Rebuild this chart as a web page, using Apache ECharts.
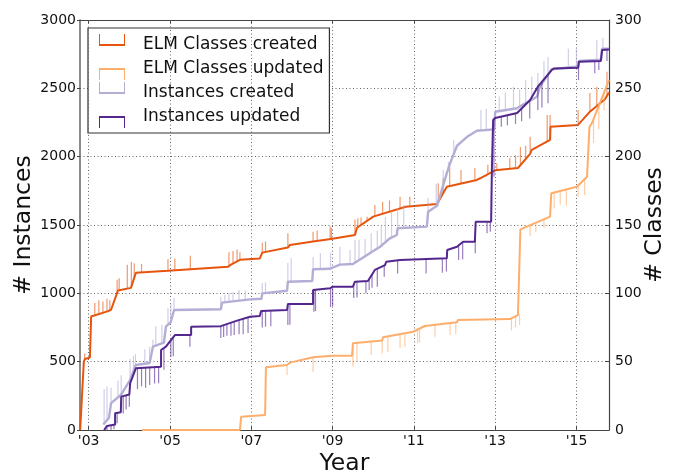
<!DOCTYPE html>
<html><head><meta charset="utf-8">
<script src="https://cdn.jsdelivr.net/npm/echarts@6/dist/echarts.min.js"></script>
<style>html,body{margin:0;padding:0;background:#fff}#c{width:675px;height:475px}</style>
</head><body><div id="c"></div>
<script>
// ---- data ----
const xTicks = [2003, 2005, 2007, 2009, 2011, 2013, 2015];

// ELM classes created (right axis, # classes)
const classesCreated = [[2002.79,0],[2002.88,50],[2002.91,52],[2003.03,53],[2003.06,83],[2003.48,87],[2003.55,88],[2003.72,102],[2004.04,104],[2004.16,115],[2004.95,116.5],[2006.43,119.5],[2006.5,121],[2006.72,124.5],[2007.21,125.5],[2007.27,129.8],[2007.9,133.5],[2007.95,135.4],[2008.52,138],[2009.0,140],[2009.55,142.7],[2009.6,148],[2010.0,156.1],[2010.8,163.4],[2011.57,165.4],[2011.81,178],[2012.55,183],[2012.63,184.2],[2013.0,190],[2013.56,191.7],[2013.86,202],[2013.9,204.9],[2014.35,212.2],[2014.36,221.9],[2015.04,223.2],[2015.33,232.9],[2015.7,242],[2015.8,247]];
const classesCreatedSpikes = [[2002.9,56],[2003.15,93],[2003.25,95],[2003.35,94],[2003.45,96],[2003.52,95],[2003.7,110],[2003.75,111],[2003.95,121],[2004.05,123],[2004.12,122],[2004.3,121.5],[2004.95,125],[2005.12,125.5],[2005.5,127.5],[2006.45,130],[2006.55,131],[2006.65,132],[2006.72,130],[2007.27,137],[2007.35,138],[2007.9,144],[2008.52,145],[2008.62,146],[2008.94,149],[2008.97,148],[2009.55,154],[2009.62,155],[2009.7,155.5],[2009.85,156],[2010.04,164.6],[2010.23,167],[2010.4,168],[2010.66,170.7],[2010.9,170.7],[2011.6,180.5],[2011.72,184],[2011.88,192.7],[2012.16,190.2],[2012.5,191.7],[2012.82,194],[2013.04,195.1],[2013.36,199],[2013.5,201],[2013.62,207],[2013.75,208],[2013.86,214.6],[2014.28,230.5],[2014.35,230.5],[2015.04,234.1],[2015.33,246.6],[2015.5,251],[2015.75,262.2]];

// ELM classes updated (right axis, # classes)
const classesUpdated = [[2004.31,0],[2006.72,0],[2006.75,9.7],[2007.34,11],[2007.36,45.9],[2007.88,47.6],[2007.95,49.3],[2008.52,53.2],[2009.0,54.4],[2009.48,54.4],[2009.5,63.4],[2010.22,65.4],[2010.24,67.8],[2010.98,71.9],[2011.0,72.5],[2011.27,76.1],[2012.06,78.8],[2012.08,80.5],[2013.36,81.2],[2013.56,84.1],[2013.6,85],[2013.62,146.8],[2014.35,156.1],[2014.38,173.2],[2015.01,178],[2015.26,185.3],[2015.32,221.9],[2015.38,224.5],[2015.8,256.1]];
const classesUpdatedSpikes = [[2007.88,40.3],[2008.52,42.7],[2009.5,46.3],[2009.6,50],[2009.95,54.9],[2010.22,56.1],[2010.36,57],[2010.66,60],[2010.78,61],[2011.09,63.4],[2011.14,64],[2011.52,68.3],[2011.89,69.5],[2012.03,70.5],[2013.4,73],[2013.5,75],[2013.6,76.8],[2013.86,142],[2014.0,145],[2014.2,148],[2014.45,162],[2014.6,165],[2014.75,164],[2015.04,170.7],[2015.2,172],[2015.42,210],[2015.55,220],[2015.68,234]];

// Instances created (left axis)
const instancesCreated = [[2003.36,40],[2003.5,90],[2003.55,197],[2003.79,256],[2004.02,366],[2004.16,476],[2004.5,490],[2004.58,610],[2004.85,640],[2004.9,756],[2005.02,790],[2005.1,878],[2006.25,883],[2006.28,932],[2006.97,956],[2007.25,960],[2007.27,1000],[2007.88,1019],[2007.9,1085],[2008.5,1090],[2008.52,1176],[2008.94,1180],[2009.18,1210],[2009.5,1215],[2010.04,1317],[2010.17,1341],[2010.4,1400],[2010.58,1427],[2010.6,1476],[2011.32,1488],[2011.35,1597],[2011.57,1640],[2011.81,1880],[2011.89,1951],[2012.06,2080],[2012.33,2150],[2012.55,2190],[2012.98,2200],[2013.0,2329],[2013.54,2354],[2013.6,2366],[2014.03,2439],[2014.1,2512],[2014.39,2640],[2015.04,2660],[2015.06,2700],[2015.6,2710],[2015.63,2790],[2015.8,2790]];
const instancesCreatedSpikes = [[2003.38,300],[2003.45,320],[2003.55,310],[2003.72,360],[2003.8,400],[2004.02,520],[2004.1,540],[2004.15,555],[2004.38,590],[2004.5,610],[2004.58,660],[2004.65,760],[2004.8,770],[2004.95,890],[2005.02,930],[2005.1,965],[2006.25,975],[2006.35,990],[2006.45,1000],[2006.55,1010],[2006.7,1024],[2006.85,1020],[2007.27,1075],[2007.35,1080],[2007.9,1222],[2007.98,1258],[2008.52,1266],[2008.7,1295],[2008.95,1300],[2009.18,1340],[2009.43,1317],[2009.55,1390],[2009.65,1390],[2009.8,1400],[2009.95,1440],[2010.1,1460],[2010.2,1500],[2010.3,1560],[2010.45,1600],[2010.6,1624],[2010.75,1646],[2011.35,1700],[2011.55,1800],[2011.72,1902],[2011.85,1960],[2011.98,2120],[2012.65,2341],[2012.78,2350],[2013.1,2440],[2013.25,2470],[2013.45,2512],[2013.6,2490],[2013.75,2560],[2013.9,2585],[2014.05,2612],[2014.2,2700],[2014.3,2730],[2014.8,2790],[2015.0,2793],[2015.5,2854],[2015.65,2868]];

// Instances updated (left axis)
const instancesUpdated = [[2003.38,0],[2003.45,30],[2003.65,40],[2003.65,122],[2003.79,130],[2003.8,244],[2004.0,260],[2004.02,342],[2004.16,451],[2004.78,463],[2004.78,585],[2004.9,610],[2005.12,695],[2005.52,695],[2005.52,756],[2006.25,760],[2006.65,800],[2006.97,829],[2007.21,835],[2007.24,870],[2007.88,878],[2007.9,922],[2008.52,922],[2008.52,1024],[2008.94,1037],[2009.0,1049],[2009.5,1049],[2009.55,1085],[2009.87,1090],[2010.04,1171],[2010.29,1207],[2010.32,1231],[2010.66,1244],[2011.81,1256],[2011.82,1317],[2012.06,1341],[2012.21,1378],[2012.5,1378],[2012.52,1524],[2012.9,1524],[2012.92,1927],[2012.95,2268],[2013.0,2283],[2013.54,2320],[2013.86,2415],[2014.05,2512],[2014.39,2634],[2014.45,2646],[2015.04,2650],[2015.06,2695],[2015.6,2700],[2015.63,2780],[2015.8,2785]];
const instancesUpdatedSpikes = [[2003.45,0],[2003.55,0],[2003.62,5],[2003.7,50],[2003.85,120],[2003.92,150],[2004.0,170],[2004.2,300],[2004.3,320],[2004.4,310],[2004.5,330],[2004.62,340],[2004.72,342],[2004.85,440],[2005.02,534],[2005.08,540],[2005.49,610],[2006.25,673],[2006.32,680],[2006.4,690],[2006.5,690],[2006.58,695],[2006.7,700],[2006.8,700],[2006.92,710],[2007.27,750],[2007.35,756],[2007.48,760],[2007.9,768],[2007.95,770],[2008.54,866],[2008.58,870],[2008.95,900],[2009.0,905],[2009.52,966],[2009.6,970],[2009.82,1000],[2009.9,1024],[2009.97,1040],[2010.1,1049],[2010.27,1122],[2010.6,1146],[2011.3,1146],[2011.7,1150],[2011.8,1160],[2012.1,1244],[2012.2,1250],[2012.51,1293],[2012.8,1440],[2012.88,1450],[2012.97,1853],[2013.15,2219],[2013.3,2230],[2013.5,2240],[2013.65,2260],[2013.85,2280],[2014.05,2341],[2014.15,2360],[2014.3,2390],[2015.05,2561],[2015.45,2610],[2015.55,2634],[2015.75,2700]];

const names = ['ELM Classes created', 'ELM Classes updated', 'Instances created', 'Instances updated'];
const colors = ['#e6550d', '#fdae6b', '#b2aed6', '#54278f'];

// ---- helpers ----
function baseAt(arr, x) {
  for (let i = arr.length - 1; i >= 0; i--) {
    if (arr[i][0] <= x) {
      const n = arr[i + 1];
      if (!n) return arr[i][1];
      const t = (x - arr[i][0]) / (n[0] - arr[i][0]);
      return arr[i][1] + t * (n[1] - arr[i][1]);
    }
  }
  return arr[0][1];
}
function spikeSeries(id, spikes, main, color, yIdx, z) {
  return {
    type: 'custom', name: id, xAxisIndex: 0, yAxisIndex: yIdx, z: z, silent: true,
    data: spikes.map(s => [s[0], baseAt(main, s[0]), s[1]]),
    encode: { x: 0, y: [1, 2] },
    renderItem: function (params, api) {
      const a = api.coord([api.value(0), api.value(1)]);
      const b = api.coord([api.value(0), api.value(2)]);
      return { type: 'line', shape: { x1: a[0], y1: a[1], x2: b[0], y2: b[1] },
        style: { stroke: color, lineWidth: 1.2, opacity: 0.6 } };
    }
  };
}
function mainSeries(i, data, yIdx, width, z) {
  return { type: 'line', name: names[i], data: data, xAxisIndex: 0, yAxisIndex: yIdx,
    showSymbol: false, symbol: 'none', z: z, color: colors[i],
    lineStyle: { color: colors[i], width: width }, silent: true };
}
const FONT = 'DejaVu Sans';
const upIcon = 'path://M0,10 L26,10 L26,12 L0,12 Z M0,0 L1,0 L1,11 L0,11 Z M25,0 L26,0 L26,11 L25,11 Z M39,22 L38.99,22 L39,21.99 Z';
const downIcon = 'path://M0,10 L26,10 L26,12 L0,12 Z M0,11 L1,11 L1,22 L0,22 Z M25,11 L26,11 L26,22 L25,22 Z M39,0 L38.99,0 L39,0.01 Z';

const gridLine = { color: '#666', type: [1, 2.5], width: 1 };
const axisCol = '#444';

const option = {
  animation: false,
  backgroundColor: '#fff',
  grid: { left: 80, right: 66, top: 20, bottom: 45, containLabel: false, outerBoundsMode: 'none' },
  legend: {
    orient: 'vertical', left: 88, top: 28,
    backgroundColor: '#fff', borderColor: '#333', borderWidth: 1.2, borderRadius: 0,
    padding: [6, 6, 5, 11], itemWidth: 39, itemHeight: 22, itemGap: 2,
    textStyle: { fontSize: 17, fontFamily: FONT, color: '#111' },
    itemStyle: { borderWidth: 0 },
    data: [
      { name: names[0], icon: upIcon, itemStyle: { color: colors[0], borderWidth: 0 } },
      { name: names[1], icon: downIcon, itemStyle: { color: colors[1], borderWidth: 0 } },
      { name: names[2], icon: upIcon, itemStyle: { color: colors[2], borderWidth: 0 } },
      { name: names[3], icon: downIcon, itemStyle: { color: colors[3], borderWidth: 0 } }
    ]
  },
  xAxis: [
    { type: 'value', position: 'bottom', min: 2002.786, max: 2015.80,
      axisLine: { show: true, onZero: false, lineStyle: { color: axisCol, width: 1.2 } },
      axisTick: { show: true, inside: true, length: 4, customValues: xTicks, lineStyle: { color: axisCol } },
      axisLabel: { customValues: xTicks, formatter: v => "'" + String(Math.round(v)).slice(2),
        color: '#111', fontSize: 14, fontFamily: FONT, margin: 4 },
      splitLine: { show: false },
      name: 'Year', nameLocation: 'middle', nameGap: 22, nameMoveOverlap: false,
      nameTextStyle: { fontSize: 23.5, fontFamily: FONT, color: '#111', verticalAlign: 'top' } },
    { type: 'value', position: 'top', min: 2002.786, max: 2015.80,
      axisLine: { show: true, onZero: false, lineStyle: { color: axisCol, width: 1.2 } },
      axisTick: { show: true, inside: true, length: 4, customValues: xTicks, lineStyle: { color: axisCol } },
      axisLabel: { show: false }, splitLine: { show: false } }
  ],
  yAxis: [
    { type: 'value', position: 'left', min: 0, max: 3000, interval: 500,
      axisLine: { show: true, onZero: false, lineStyle: { color: '#666', width: 1.5 } },
      axisTick: { show: true, inside: false, length: 3, lineStyle: { color: axisCol } },
      axisLabel: { color: '#111', fontSize: 14, fontFamily: FONT, margin: 4, formatter: v => String(v) },
      splitLine: { show: true, lineStyle: gridLine },
      name: '# Instances', nameLocation: 'middle', nameGap: 44, nameRotate: 90, nameMoveOverlap: false,
      nameTextStyle: { fontSize: 23.5, fontFamily: FONT, color: '#111' } },
    { type: 'value', position: 'right', min: 0, max: 300, interval: 50,
      axisLine: { show: true, onZero: false, lineStyle: { color: axisCol, width: 1.2 } },
      axisTick: { show: true, inside: true, length: 4, lineStyle: { color: axisCol } },
      axisLabel: { color: '#111', fontSize: 14, fontFamily: FONT, margin: 6, formatter: v => String(v) },
      splitLine: { show: false },
      name: '# Classes', nameLocation: 'middle', nameGap: 34, nameRotate: 90, nameMoveOverlap: false,
      nameTextStyle: { fontSize: 23.5, fontFamily: FONT, color: '#111' } }
  ],
  series: [
    { type: 'line', name: 'grid-x', data: [], xAxisIndex: 0, yAxisIndex: 0, z: 1, silent: true,
      markLine: { silent: true, symbol: 'none', label: { show: false }, lineStyle: gridLine,
        animation: false, data: xTicks.map(v => ({ xAxis: v })) } },
    spikeSeries('s0', classesCreatedSpikes, classesCreated, colors[0], 1, 3),
    mainSeries(0, classesCreated, 1, 2, 4),
    spikeSeries('s1', classesUpdatedSpikes, classesUpdated, colors[1], 1, 5),
    mainSeries(1, classesUpdated, 1, 2, 6),
    spikeSeries('s2', instancesCreatedSpikes, instancesCreated, colors[2], 0, 7),
    mainSeries(2, instancesCreated, 0, 2.4, 8),
    spikeSeries('s3', instancesUpdatedSpikes, instancesUpdated, colors[3], 0, 9),
    mainSeries(3, instancesUpdated, 0, 2, 10)
  ]
};
const chart = echarts.init(document.getElementById('c'), null, { renderer: 'canvas' });
chart.setOption(option);
</script>
</body></html>
